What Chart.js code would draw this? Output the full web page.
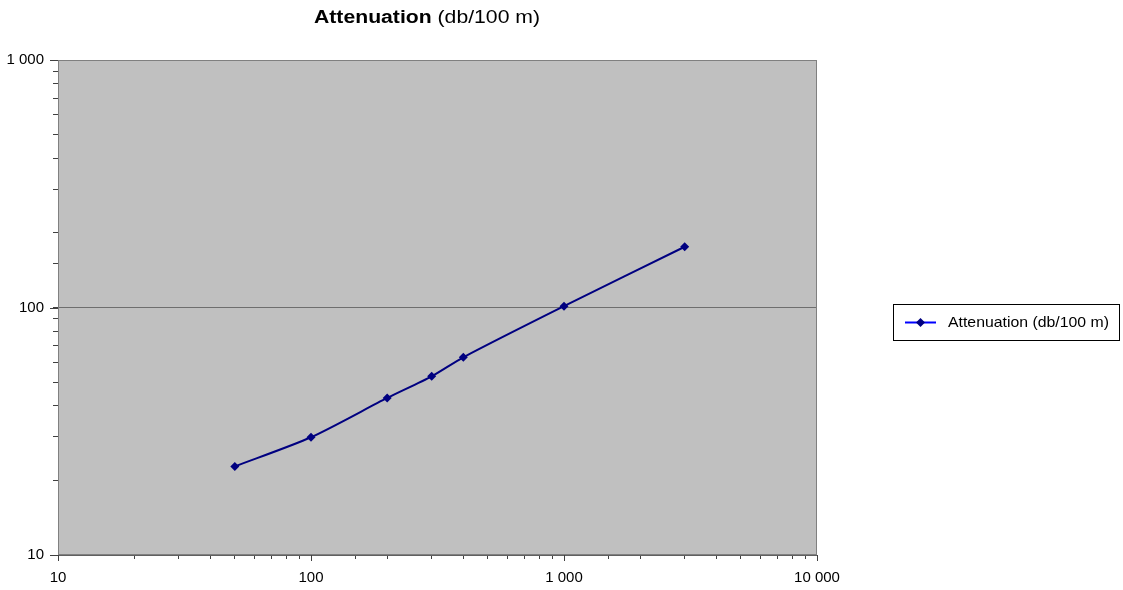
<!DOCTYPE html>
<html><head><meta charset="utf-8">
<script src="https://cdn.jsdelivr.net/npm/chart.js@4/dist/chart.umd.min.js"></script>
<style>html,body{margin:0;padding:0;background:#fff}#wrap{width:1123px;height:590px;position:relative}</style>
</head><body><div id="wrap"><canvas id="c" width="1123" height="590"></canvas></div>
<script>
const frequencies = [50, 100, 200, 300, 400, 1000, 3000];
const attenuation = [22.8, 29.9, 43.1, 52.7, 62.9, 101.2, 176];
const seriesLabel = 'Attenuation (db/100 m)';
const titleBold = 'Attenuation';
const titleRest = ' (db/100 m)';
const xLabelValues = [10, 100, 1000, 10000];
const yLabelValues = [10, 100, 1000];
const yGridValues = [100];

const FONT = '"Liberation Sans", Arial, sans-serif';
const fmt = v => String(v).replace(/\B(?=(\d{3})+(?!\d))/g, ' ');

const decorPlugin = {
  id: 'decor',
  beforeDraw(chart) {
    const {ctx, chartArea: a} = chart;
    ctx.save();
    ctx.fillStyle = '#C0C0C0';
    ctx.fillRect(a.left, a.top, a.right - a.left, a.bottom - a.top);
    ctx.restore();
  },
  afterDraw(chart) {
    const {ctx, chartArea: a} = chart;
    ctx.save();
    // plot border
    ctx.strokeStyle = '#808080';
    ctx.lineWidth = 1;
    ctx.strokeRect(Math.round(a.left) + 0.5, Math.round(a.top) + 0.5, Math.round(a.right - a.left) - 1, Math.round(a.bottom - a.top) - 1);
    // longer marks on major ticks
    ctx.strokeStyle = '#404040';
    ctx.beginPath();
    const xs = chart.scales.x, ys = chart.scales.y;
    xLabelValues.forEach(v => { const px = Math.round(xs.getPixelForValue(v)) + 0.5; ctx.moveTo(px, a.bottom); ctx.lineTo(px, a.bottom + 6); });
    yLabelValues.forEach(v => { const py = Math.round(ys.getPixelForValue(v)) + 0.5; ctx.moveTo(a.left - 8, py); ctx.lineTo(a.left, py); });
    ctx.stroke();
    // title (stretched horizontally like the reference)
    ctx.fillStyle = '#000';
    ctx.textBaseline = 'alphabetic';
    ctx.font = 'bold 18px ' + FONT;
    const w1 = ctx.measureText(titleBold).width;
    ctx.font = '18px ' + FONT;
    const w2 = ctx.measureText(titleRest).width;
    const sx = 226 / (w1 + w2);
    ctx.save();
    ctx.translate(427 - 113, 23);
    ctx.scale(sx, 1);
    ctx.font = 'bold 18px ' + FONT;
    ctx.fillText(titleBold, 0, 0);
    ctx.font = '18px ' + FONT;
    ctx.fillText(titleRest, w1, 0);
    ctx.restore();
    // legend
    ctx.strokeStyle = '#000';
    ctx.lineWidth = 1;
    ctx.strokeRect(893.5, 304.5, 226, 36);
    ctx.strokeStyle = '#0000FF';
    ctx.lineWidth = 2;
    ctx.beginPath(); ctx.moveTo(905, 322.5); ctx.lineTo(936, 322.5); ctx.stroke();
    ctx.fillStyle = '#000080';
    ctx.beginPath(); ctx.moveTo(920.5, 318); ctx.lineTo(925, 322.5); ctx.lineTo(920.5, 327); ctx.lineTo(916, 322.5); ctx.closePath(); ctx.fill();
    ctx.fillStyle = '#000';
    ctx.font = '15px ' + FONT;
    ctx.textBaseline = 'middle';
    const lw = ctx.measureText(seriesLabel).width;
    ctx.save();
    ctx.translate(948, 323);
    ctx.scale(161 / lw, 1);
    ctx.fillText(seriesLabel, 0, 0);
    ctx.restore();
    ctx.restore();
  }
};

new Chart(document.getElementById('c'), {
  type: 'line',
  data: {
    datasets: [{
      label: seriesLabel,
      data: frequencies.map((f, i) => ({x: f, y: attenuation[i]})),
      borderColor: '#000080',
      backgroundColor: '#000080',
      borderWidth: 2,
      pointStyle: 'rectRot',
      pointRadius: 4.5,
      pointBorderWidth: 0,
      pointBackgroundColor: '#000080',
      tension: 0.25
    }]
  },
  options: {
    responsive: false,
    devicePixelRatio: 1,
    animation: false,
    layout: {padding: {top: 60, right: 306, left: 0, bottom: 0}},
    plugins: {legend: {display: false}, title: {display: false}, tooltip: {enabled: false}},
    scales: {
      x: {
        type: 'logarithmic', min: 10, max: 10000,
        afterFit: s => { s.height = 35; },
        border: {display: true, color: '#606060', width: 1},
        grid: {drawOnChartArea: false, drawTicks: true, tickLength: 4, tickColor: '#404040'},
        ticks: {
          autoSkip: false, maxRotation: 0, padding: 10, color: '#000',
          font: {family: FONT, size: 15},
          callback: v => xLabelValues.includes(v) ? fmt(v) : ''
        }
      },
      y: {
        type: 'logarithmic', min: 10, max: 1000,
        afterFit: s => { s.width = 58; },
        border: {display: true, color: '#606060', width: 1},
        grid: {
          drawTicks: true, tickLength: 5, tickColor: '#404040',
          color: c => (c.tick && yGridValues.includes(c.tick.value)) ? '#6e6e6e' : 'rgba(0,0,0,0)'
        },
        ticks: {
          autoSkip: false, padding: 9, color: '#000',
          font: {family: FONT, size: 15},
          callback: v => yLabelValues.includes(v) ? fmt(v) : ''
        }
      }
    }
  },
  plugins: [decorPlugin]
});
</script></body></html>
